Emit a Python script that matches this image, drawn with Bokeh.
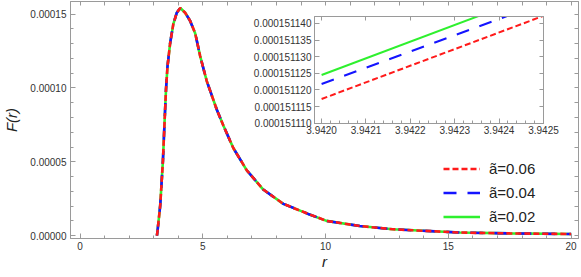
from bokeh.plotting import figure
from bokeh.models import (FixedTicker, PrintfTickFormatter, Legend, LegendItem,
                          Range1d, ColumnDataSource, LinearAxis)
from bokeh.layouts import column
from bokeh.embed import file_html
from bokeh.resources import INLINE

# ---------------- data ----------------
r_vals = [3.13, 3.155, 3.264, 3.374, 3.44, 3.50, 3.56, 3.67, 3.80, 3.94,
          4.08, 4.28, 4.48, 4.69, 4.89, 5.16, 5.57, 5.84, 6.24, 6.79, 7.46,
          8.28, 9.29, 10.04, 11.39, 12.74, 15.46, 17.50, 20.00]
f_vals = [0.0, 3.2e-6, 2.05e-5, 5.06e-5, 7.65e-5, 9.9e-5, 1.145e-4,
          1.305e-4, 1.434e-4, 1.509e-4, 1.541e-4, 1.509e-4, 1.455e-4,
          1.369e-4, 1.216e-4, 1.046e-4, 8.52e-5, 7.44e-5, 5.93e-5, 4.42e-5,
          3.12e-5, 2.15e-5, 1.47e-5, 1.0e-5, 6.5e-6, 4.3e-6, 2.1e-6, 1.5e-6,
          1.1e-6]

legend_labels = ["ã=0.06", "ã=0.04", "ã=0.02"]

x_ticks = [0, 5, 10, 15, 20]
y_ticks = [0.0, 0.00005, 0.00010, 0.00015]

inset_r = [3.9420, 3.9425]
inset_f_006 = [0.00015111728, 0.0001511423]
inset_f_004 = [0.00015112178, 0.00015114626]
inset_f_002 = [0.00015112448, 0.0001511496]

inset_x_ticks = [3.9420, 3.9421, 3.9422, 3.9423, 3.9424, 3.9425]
inset_y_ticks = [0.000151110, 0.000151115, 0.000151120, 0.000151125,
                 0.000151130, 0.000151135, 0.000151140]

# ---------------- styles ----------------
RED, BLUE, GREEN = "#ff1a1a", "#1414ff", "#2ef02e"
FONT = "Liberation Sans"
AXIS_COL = "#9a9a9a"
LABEL_COL = "#333333"


def style_axes(axes, fs="10px"):
    for ax in axes:
        ax.axis_line_color = AXIS_COL
        ax.major_tick_line_color = AXIS_COL
        ax.minor_tick_line_color = AXIS_COL
        ax.major_tick_in = 5
        ax.major_tick_out = 0
        ax.minor_tick_in = 3
        ax.minor_tick_out = 0
        ax.major_label_text_font = FONT
        ax.major_label_text_font_size = fs
        ax.major_label_text_color = LABEL_COL


def frame_axis(tick_positions):
    # an unlabelled axis that only carries the frame's ticks
    ax = LinearAxis(ticker=FixedTicker(ticks=[], minor_ticks=tick_positions))
    ax.axis_line_color = AXIS_COL
    ax.minor_tick_line_color = AXIS_COL
    ax.minor_tick_in = 4
    ax.minor_tick_out = 0
    ax.major_tick_in = 0
    ax.major_tick_out = 0
    ax.major_label_standoff = 0
    return ax


# ---------------- main figure ----------------
p = figure(frame_width=508, frame_height=237,
           x_range=Range1d(-0.39, 20.3), y_range=Range1d(-1.94e-6, 1.585e-4),
           output_backend="svg", toolbar_location=None,
           min_border_left=62, min_border_right=1, min_border_top=1,
           min_border_bottom=20)
xb = p.below[0]
yl = p.left[0]
style_axes([xb, yl])
p.xgrid.visible = False
p.ygrid.visible = False
p.outline_line_color = AXIS_COL

src = ColumnDataSource(dict(r=r_vals, f=f_vals))
g = p.line("r", "f", source=src, line_color=GREEN, line_width=2.6)
b = p.line("r", "f", source=src, line_color=BLUE, line_width=2.6, line_dash="13 11")
rd = p.line("r", "f", source=src, line_color=RED, line_width=2.6, line_dash="6 3")

x_minor = list(range(0, 21))
y_minor = [i * 1e-5 for i in range(16)]
xb.ticker = FixedTicker(ticks=x_ticks, minor_ticks=x_minor)
yl.ticker = FixedTicker(ticks=y_ticks, minor_ticks=y_minor)
yl.formatter = PrintfTickFormatter(format="%.5f")
xb.major_label_standoff = 3
yl.major_label_standoff = 4

xb.axis_label = "r"
yl.axis_label = "F(r)"
for ax in (xb, yl):
    ax.axis_label_text_font = FONT
    ax.axis_label_text_font_style = "italic"
    ax.axis_label_text_font_size = "15px"
    ax.axis_label_text_color = "#222222"
xb.axis_label_standoff = 0
yl.axis_label_standoff = 7

p.add_layout(frame_axis(x_minor), "above")
p.add_layout(frame_axis(y_minor), "right")

legend = Legend(items=[LegendItem(label=legend_labels[0], renderers=[rd]),
                       LegendItem(label=legend_labels[1], renderers=[b]),
                       LegendItem(label=legend_labels[2], renderers=[g])],
                location=(373, 13))
legend.border_line_color = None
legend.background_fill_alpha = 0
legend.padding = 0
legend.margin = 0
legend.spacing = 7
legend.glyph_width = 37
legend.glyph_height = 17
legend.label_height = 17
legend.label_standoff = 9
legend.label_text_font = FONT
legend.label_text_font_size = "15px"
legend.label_text_color = "#222222"
p.add_layout(legend)

# ---------------- inset figure ----------------
q = figure(frame_width=229, frame_height=107,
           x_range=Range1d(3.941984, 3.9425),
           y_range=Range1d(0.0001511099, 0.0001511421),
           output_backend="svg", toolbar_location=None,
           min_border_left=70, min_border_right=20, min_border_top=2,
           min_border_bottom=14)
qxb = q.below[0]
qyl = q.left[0]
style_axes([qxb, qyl])
q.xgrid.visible = False
q.ygrid.visible = False
q.outline_line_color = AXIS_COL
q.border_fill_alpha = 0
ix_minor = [3.94198 + i * 0.00002 for i in range(28)]
iy_minor = [0.000151110 + i * 1e-12 for i in range(33)]
qxb.ticker = FixedTicker(ticks=inset_x_ticks, minor_ticks=ix_minor)
qyl.ticker = FixedTicker(ticks=inset_y_ticks, minor_ticks=iy_minor)
qxb.formatter = PrintfTickFormatter(format="%.4f")
qyl.formatter = PrintfTickFormatter(format="%.9f")
qxb.major_label_standoff = 2
qyl.major_label_standoff = 3
q.add_layout(frame_axis(inset_x_ticks), "above")
q.add_layout(frame_axis(inset_y_ticks), "right")

q.line(inset_r, inset_f_002, line_color=GREEN, line_width=2)
q.line(inset_r, inset_f_004, line_color=BLUE, line_width=2, line_dash="13 11")
q.line(inset_r, inset_f_006, line_color=RED, line_width=2, line_dash="6 3")

q.styles = {"position": "absolute", "left": "244px", "top": "14px"}

layout = column(p, q)
open("out.html", "w").write(file_html(layout, INLINE))
